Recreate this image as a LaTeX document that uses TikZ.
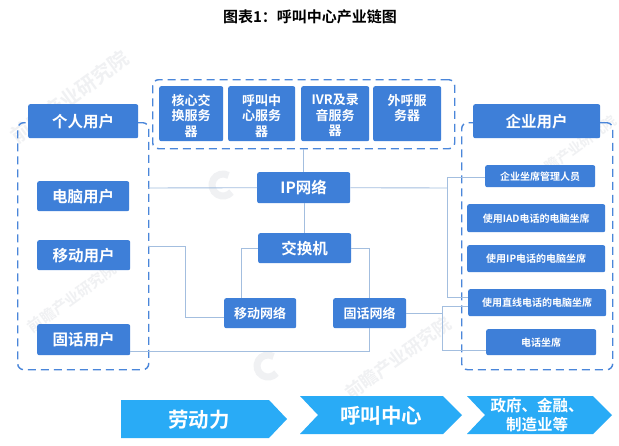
\documentclass[tikz,border=0pt]{standalone}
\usepackage{fontspec}
\setmainfont{Noto Sans CJK SC}
\newfontfamily\cjkb{Noto Sans CJK SC Bold}
\usetikzlibrary{calc}
\definecolor{boxblue}{HTML}{3E7FD8}
\definecolor{dashblue}{HTML}{4A86DA}
\definecolor{linkblue}{HTML}{A3BEDF}
\definecolor{chevblue}{HTML}{29ABF6}
\definecolor{markgray}{HTML}{F0F1F3}
\newcommand{\cjkfont}[1]{\cjkb\fontsize{#1}{#1}\selectfont\baselineskip=1.17\baselineskip}
\tikzset{
  bluebox/.style={draw=none,fill=boxblue,rounded corners=2pt,text=white,inner sep=0pt,align=center,font=\cjkfont{#1}},
  bluebox/.default=15.5,
  groupbox/.style={draw=dashblue,line width=1.4pt,dash pattern=on 8pt off 5pt,rounded corners=6pt,inner sep=0pt},
  link/.style={draw=linkblue,line width=0.9pt},
  chev/.style={fill=chevblue,draw=none},
  chevtext/.style={text=white,align=center,font=\cjkfont{#1}},
  wmark/.style={text=markgray,rotate=36,font=\cjkfont{#1}},
  logomark/.style={draw=markgray,line width=7pt},
}
\newcommand{\bbox}[7][15.5]{\node[bluebox=#1,minimum width=#5pt-#3pt,minimum height=#6pt-#4pt,anchor=north west] (#2) at (#3,#4) {#7};}
\newcommand{\toptext}[1]{\parbox[c][55pt][t]{64pt}{\baselineskip=15.5pt\centering\vspace*{8pt}#1}}
\begin{document}
\begin{tikzpicture}[x=1pt,y=-1pt]
\useasboundingbox (0,0) rectangle (619,445);
\fill[white] (0,0) rectangle (619,445);
% watermarks
\node[wmark=20] (w1) at (70,97) {前瞻产业研究院};
\node[wmark=15] (w2) at (72,298) {前瞻产业研究院};
\node[wmark=18] (w3) at (398,358) {前瞻产业研究院};
\node[wmark=14] (w4) at (575,148) {前瞻产业研究院};
\foreach \cx/\cy in {223/185,268/366}
  \draw[logomark] ([shift={(\cx,\cy)}]60:11pt) arc[start angle=60,end angle=320,radius=11pt];
% title
\node[font=\cjkfont{15},text=black] (title) at (310,17) {图表1：呼叫中心产业链图};
% dashed groups
\node[groupbox,minimum width=131pt,minimum height=247pt,anchor=north west] (ldash) at (17,122) {};
\node[groupbox,minimum width=151pt,minimum height=247pt,anchor=north west] (rdash) at (461,122) {};
\node[groupbox,minimum width=302pt,minimum height=69pt,anchor=north west] (tdash) at (152,79) {};
% named connector points
\coordinate (a1) at (148,188);
\coordinate (a2) at (148,246);
\coordinate (a3) at (185,317);
\coordinate (a4) at (185,246);
\coordinate (b1) at (241,248);
\coordinate (b2) at (369,248);
\coordinate (c0) at (130,351);
\coordinate (c1) at (369,351);
\coordinate (d0) at (447,188);
\coordinate (d1) at (447,177);
\coordinate (d2) at (447,297);
\coordinate (e0) at (442,313);
\coordinate (e1) at (442,306);
\coordinate (e2) at (442,350);
% boxes
\bbox{puser}{28}{104}{138}{138}{个人用户}
\bbox{pc}{37}{181}{129}{211}{电脑用户}
\bbox{mob}{37}{240}{130}{270}{移动用户}
\bbox{fix}{37}{324}{130}{355}{固话用户}
\bbox[13]{core}{159}{86}{223}{141}{\toptext{核心交\\换服务\\器}}
\bbox[13]{callsrv}{228}{86}{295}{141}{\toptext{呼叫中\\心服务\\器}}
\bbox[13]{ivr}{301}{86}{369}{141}{\toptext{IVR及录\\音服务\\器}}
\bbox[13]{outc}{373}{86}{441}{141}{\toptext{外呼服\\务器}}
\bbox{ip}{257}{172}{350}{203}{IP网络}
\bbox{sw}{258}{233}{351}{263}{交换机}
\bbox[13]{mnet}{224}{298}{296}{328}{移动网络}
\bbox[13]{fnet}{333}{298}{406}{328}{固话网络}
\bbox{euser}{473}{104}{600}{138}{企业用户}
\bbox[10]{seat}{485}{165}{595}{187}{企业坐席管理人员}
\bbox[10]{iad}{467}{204}{605}{232}{使用IAD电话的电脑坐席}
\bbox[10]{ipp}{467}{245}{605}{272}{使用IP电话的电脑坐席}
\bbox[10]{direct}{468}{289}{606}{316}{使用直线电话的电脑坐席}
\bbox[10]{tel}{486}{329}{596}{355}{电话坐席}
% connectors
\draw[link] (tdash.south -| ip.north) -- (ip.north);
\draw[link] (ip.south -| sw.north) -- (sw.north);
\draw[link] (a1) -- (ip.west);
\draw[link] (ip.east) -- (d0);
\draw[link] (seat.west |- d1) -- (d1) -- (d2) -- (direct.west |- d2);
\draw[link] (a2) -- (a4) -- (a3) -- (mnet.west |- a3);
\draw[link] (sw.west |- b1) -- (b1) -- (b1 |- mnet.north);
\draw[link] (sw.east |- b2) -- (b2) -- (b2 |- fnet.north);
\draw[link] (fix.east |- c0) -- (c1) -- (c1 |- fnet.south);
\draw[link] (fnet.east |- e0) -- (e0);
\draw[link] (direct.west |- e1) -- (e1) -- (e2) -- (tel.west |- e2);
% chevrons
\fill[chev] (121,400) -- (269,400) -- (287,419) -- (269,438) -- (121,438) -- cycle;
\fill[chev] (300,396) -- (443,396) -- (462,415) -- (443,434) -- (300,434) -- (318,415) -- cycle;
\fill[chev] (467,396) -- (593,396) -- (612,415) -- (593,434) -- (467,434) -- (485,415) -- cycle;
\node[chevtext=20.5] (lab) at (199,419.5) {劳动力};
\node[chevtext=20.5] (cc) at (381,415.5) {呼叫中心};
\node[chevtext=15.5] (gov) at (537,415) {政府、金融、\\制造业等};
\end{tikzpicture}
\end{document}
